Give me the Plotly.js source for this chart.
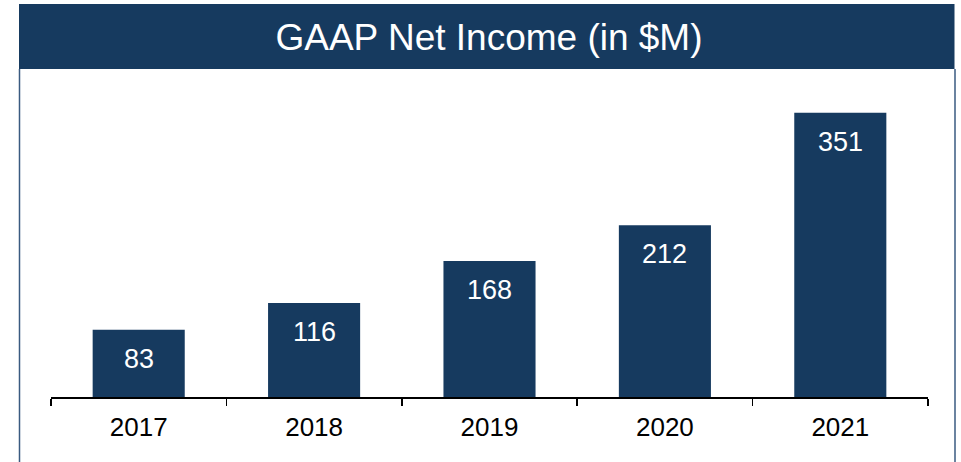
<!DOCTYPE html>
<html>
<head>
<meta charset="utf-8">
<script src="https://cdn.plot.ly/plotly-3.0.1.min.js"></script>
<style>
  html, body { margin: 0; padding: 0; background: #ffffff; }
  #chart { width: 961px; height: 462px; }
</style>
</head>
<body>
<div id="chart"></div>
<script>
const years = ['2017', '2018', '2019', '2020', '2021'];
const netIncome = [83, 116, 168, 212, 351];
const valueLabels = ['83', '116', '168', '212', '351'];
const chartTitle = 'GAAP Net Income (in $M)';

const navy = '#163a5f';
const font = 'Arial, "Liberation Sans", sans-serif';

const W = 961, H = 462;
const mL = 51, mR = 33, mT = 73, mB = 65;
const pw = W - mL - mR, ph = H - mT - mB;
const px = v => (v - mL) / pw;
const py = v => (H - mB - v) / ph;

const trace = {
  type: 'bar',
  x: years,
  y: netIncome,
  marker: { color: navy, line: { width: 0 } },
  hoverinfo: 'none'
};

// category index positions on the category axis
const annotations = years.map((yr, i) => ({
  x: i, y: netIncome[i], xref: 'x', yref: 'y',
  text: valueLabels[i], showarrow: false,
  yanchor: 'middle', yshift: -29,
  font: { family: font, size: 27, color: '#ffffff' }
}));

const layout = {
  width: W, height: H,
  margin: { l: mL, r: mR, t: mT, b: mB, pad: 0 },
  paper_bgcolor: '#ffffff',
  plot_bgcolor: '#ffffff',
  showlegend: false,
  bargap: 0.475,
  title: {
    text: chartTitle,
    font: { family: font, size: 37, color: '#ffffff' },
    xref: 'container', x: 489 / W, xanchor: 'center',
    yref: 'container', y: 1 - 37 / H, yanchor: 'middle'
  },
  xaxis: {
    type: 'category',
    categoryorder: 'array', categoryarray: years,
    range: [-0.5, years.length - 0.5],
    showline: true, linecolor: '#000000', linewidth: 1.5,
    ticks: 'outside', tickson: 'boundaries', ticklen: 7,
    tickcolor: '#000000', tickwidth: 1.5,
    tickangle: 0, ticklabelstandoff: 6,
    showgrid: false, zeroline: false,
    tickfont: { family: font, size: 26, color: '#000000' },
    fixedrange: true
  },
  yaxis: {
    range: [0, 400],
    visible: false,
    showgrid: false, zeroline: false,
    fixedrange: true
  },
  shapes: [
    { type: 'rect', xref: 'paper', yref: 'paper', layer: 'below',
      x0: px(19), x1: px(954.5), y0: py(69), y1: py(4),
      fillcolor: navy, line: { width: 0 } },
    { type: 'line', xref: 'paper', yref: 'paper',
      x0: px(19.5), x1: px(19.5), y0: py(69), y1: py(462),
      line: { color: '#3a5a80', width: 1.5 } },
    { type: 'line', xref: 'paper', yref: 'paper',
      x0: px(955), x1: px(955), y0: py(69), y1: py(462),
      line: { color: '#3a5a80', width: 1.5 } }
  ],
  annotations: annotations
};

Plotly.newPlot('chart', [trace], layout, { displayModeBar: false, staticPlot: true });
</script>
</body>
</html>
